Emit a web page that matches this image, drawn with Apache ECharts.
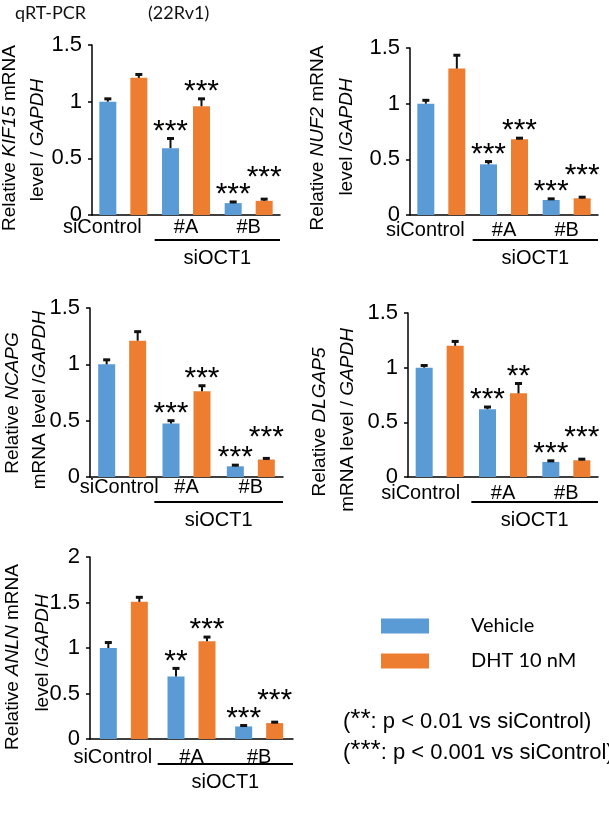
<!DOCTYPE html>
<html>
<head>
<meta charset="utf-8">
<script src="https://cdn.jsdelivr.net/npm/echarts@6/dist/echarts.min.js"></script>
<style>
html, body { margin: 0; padding: 0; background: #fff; }
#main { width: 609px; height: 818px; }
</style>
</head>
<body>
<div id="main"></div>
<script>
// 数据
var categories = ['siControl', '#A', '#B'];
var seriesNames = ['Vehicle', 'DHT 10 nM'];

var kif15Veh = [1.0, 0.59, 0.105];
var kif15VehErr = [0.025, 0.085, 0.01];
var kif15Dht = [1.21, 0.96, 0.125];
var kif15DhtErr = [0.03, 0.065, 0.015];
var kif15VehStars = ['', '***', '***'];
var kif15DhtStars = ['', '***', '***'];

var nuf2Veh = [1.0, 0.455, 0.135];
var nuf2VehErr = [0.03, 0.025, 0.01];
var nuf2Dht = [1.315, 0.68, 0.15];
var nuf2DhtErr = [0.12, 0.01, 0.01];
var nuf2VehStars = ['', '***', '***'];
var nuf2DhtStars = ['', '***', '***'];

var ncapgVeh = [1.0, 0.475, 0.095];
var ncapgVehErr = [0.04, 0.025, 0.01];
var ncapgDht = [1.21, 0.76, 0.155];
var ncapgDhtErr = [0.08, 0.05, 0.01];
var ncapgVehStars = ['', '***', '***'];
var ncapgDhtStars = ['', '***', '***'];

var dlgap5Veh = [1.0, 0.62, 0.138];
var dlgap5VehErr = [0.02, 0.02, 0.01];
var dlgap5Dht = [1.2, 0.765, 0.153];
var dlgap5DhtErr = [0.04, 0.09, 0.01];
var dlgap5VehStars = ['', '***', '***'];
var dlgap5DhtStars = ['', '**', '***'];

var anlnVeh = [1.0, 0.686, 0.138];
var anlnVehErr = [0.06, 0.09, 0.01];
var anlnDht = [1.507, 1.075, 0.175];
var anlnDhtErr = [0.05, 0.045, 0.01];
var anlnVehStars = ['', '**', '***'];
var anlnDhtStars = ['', '***', '***'];

var yMax = [1.5, 1.5, 1.5, 1.5, 2];

// 布局
var font = 'Liberation Sans, Arial, sans-serif';
var colors = ['#5B9BD5', '#ED7D31'];
var barW = 17, pitch = 31;

var panels = [
    {veh: kif15Veh, vehErr: kif15VehErr, dht: kif15Dht, dhtErr: kif15DhtErr, vs: kif15VehStars, ds: kif15DhtStars,
     grid: [92, 45, 188, 170], shift: 21, lm: 2,
     name: ['Relative {i|KIF15} mRNA', 'level / {i|GAPDH}'], n1: [10, 138], n2: [38, 140]},
    {veh: nuf2Veh, vehErr: nuf2VehErr, dht: nuf2Dht, dhtErr: nuf2DhtErr, vs: nuf2VehStars, ds: nuf2DhtStars,
     grid: [410, 48, 188, 167], shift: 16, lm: 5,
     name: ['Relative {i|NUF2} mRNA', 'level /{i|GAPDH}'], n1: [318, 138], n2: [347, 137]},
    {veh: ncapgVeh, vehErr: ncapgVehErr, dht: ncapgDht, dhtErr: ncapgDhtErr, vs: ncapgVehStars, ds: ncapgDhtStars,
     grid: [90, 308, 193, 169], shift: 3, lm: 0,
     name: ['Relative {i|NCAPG}', 'mRNA level /{i|GAPDH}'], n1: [13, 403], n2: [40, 400]},
    {veh: dlgap5Veh, vehErr: dlgap5VehErr, dht: dlgap5Dht, dhtErr: dlgap5DhtErr, vs: dlgap5VehStars, ds: dlgap5DhtStars,
     grid: [408, 313, 190, 164], shift: 19, lm: 6,
     name: ['Relative {i|DLGAP5}', 'mRNA level / {i|GAPDH}'], n1: [320, 422], n2: [348, 420]},
    {veh: anlnVeh, vehErr: anlnVehErr, dht: anlnDht, dhtErr: anlnDhtErr, vs: anlnVehStars, ds: anlnDhtStars,
     grid: [90, 557, 203, 182], shift: 11, lm: 8,
     name: ['Relative {i|ANLN} mRNA', 'level /{i|GAPDH}'], n1: [13, 657], n2: [43, 653]}
];

function errRender(errs, stars, side) {
    return function (params, api) {
        var i = params.dataIndex;
        var v = api.value(1);
        var b = api.coord([i, v]);
        var t = api.coord([i, v + errs[i]]);
        var x = b[0] + side * pitch / 2;
        var gap = (side > 0 && i === 2) ? 28 : 14;
        return {
            type: 'group',
            children: [
                {type: 'line', shape: {x1: x, y1: b[1], x2: x, y2: t[1]},
                 style: {stroke: '#111', lineWidth: 2}},
                {type: 'rect', shape: {x: x - 3.5, y: t[1] - 1.5, width: 7, height: 3},
                 style: {fill: '#111'}},
                {type: 'text', x: x, y: t[1] - gap + 7,
                 style: {text: stars[i], align: 'center', verticalAlign: 'middle',
                         font: '30px ' + font, fill: '#000'}}
            ]
        };
    };
}

var option = {
    animation: false,
    backgroundColor: '#fff',
    grid: [], xAxis: [], yAxis: [], series: [], graphic: [],
    legend: {
        data: seriesNames,
        orient: 'vertical',
        left: 381, top: 616,
        padding: 0,
        itemWidth: 48, itemHeight: 15, itemGap: 15,
        icon: 'rect',
        formatter: function (n) { return '{t|' + n + '}'; },
        textStyle: {
            rich: {t: {fontFamily: 'Lato', fontSize: 20, color: '#000', lineHeight: 15, padding: [0, 0, 0, 37]}}
        }
    }
};

panels.forEach(function (p, k) {
    var g = p.grid;
    option.grid.push({left: g[0], top: g[1], width: g[2], height: g[3]});
    option.xAxis.push({
        type: 'category', gridIndex: k, data: categories,
        axisLine: {lineStyle: {color: '#000', width: 1.5}},
        axisTick: {show: false},
        axisLabel: {
            interval: 0, hideOverlap: false,
            margin: p.lm, color: '#000', fontSize: 20, fontFamily: font,
            formatter: function (v, i) { return i === 0 ? '{c|' + v + '}' : v; },
            rich: {c: {fontSize: 20, fontFamily: font, color: '#000', padding: [0, p.shift * 2, 0, 0]}}
        }
    });
    option.yAxis.push({
        type: 'value', gridIndex: k, min: 0, max: yMax[k], interval: 0.5,
        splitLine: {show: false},
        axisLine: {show: true, lineStyle: {color: '#000', width: 1.5}},
        axisTick: {show: true, length: 4, lineStyle: {color: '#000', width: 1.5}},
        axisLabel: {margin: 10, color: '#000', fontSize: 22, fontFamily: font}
    });
    option.series.push(
        {name: seriesNames[0], type: 'bar', xAxisIndex: k, yAxisIndex: k, data: p.veh,
         barWidth: barW, barGap: ((pitch - barW) / barW * 100) + '%', itemStyle: {color: colors[0]}},
        {name: seriesNames[1], type: 'bar', xAxisIndex: k, yAxisIndex: k, data: p.dht,
         barWidth: barW, itemStyle: {color: colors[1]}},
        {type: 'custom', xAxisIndex: k, yAxisIndex: k, z: 3,
         data: p.veh.map(function (v, i) { return [i, v]; }), encode: {x: 0, y: 1},
         renderItem: errRender(p.vehErr, p.vs, -1)},
        {type: 'custom', xAxisIndex: k, yAxisIndex: k, z: 3,
         data: p.dht.map(function (v, i) { return [i, v]; }), encode: {x: 0, y: 1},
         renderItem: errRender(p.dhtErr, p.ds, 1)}
    );
    // y 轴标题
    [p.n1, p.n2].forEach(function (pos, j) {
        option.graphic.push({
            type: 'text', x: pos[0], y: pos[1], rotation: Math.PI / 2,
            style: {text: p.name[j], font: '19px ' + font, fill: '#000', align: 'center', verticalAlign: 'middle',
                    rich: {i: {fontStyle: 'italic', fontSize: 19, fontFamily: font}}}
        });
    });
    // siOCT1 下划线
    var x1 = g[0] + g[2] / 3, x2 = g[0] + g[2], yb = g[1] + g[3];
    option.graphic.push(
        {type: 'line', shape: {x1: x1, y1: yb + 25, x2: x2, y2: yb + 25}, style: {stroke: '#000', lineWidth: 2}},
        {type: 'text', x: (x1 + x2) / 2, y: yb + 43,
         style: {text: 'siOCT1', font: '20px ' + font, fill: '#000', align: 'center', verticalAlign: 'middle'}}
    );
});

option.graphic.push(
    {type: 'text', x: 15, y: 13, style: {text: 'qRT-PCR', font: '18px Lato', fill: '#111', verticalAlign: 'middle'}},
    {type: 'text', x: 148, y: 13, style: {text: '(22Rv1)', font: '18px Lato', fill: '#111', verticalAlign: 'middle'}}
);

var noteRich = {
    n: {fontSize: 22, fontFamily: font, color: '#000', lineHeight: 30},
    s: {fontSize: 26, fontFamily: font, color: '#000', lineHeight: 14, verticalAlign: 'top'}
};
option.graphic.push(
    {type: 'text', x: 343, y: 722,
     style: {text: '{n|(}{s|**}{n|: p < 0.01 vs siControl)}', rich: noteRich, verticalAlign: 'middle'}},
    {type: 'text', x: 343, y: 753,
     style: {text: '{n|(}{s|***}{n|: p < 0.001 vs siControl)}', rich: noteRich, verticalAlign: 'middle'}}
);

var myChart = echarts.init(document.getElementById('main'));
myChart.setOption(option);
</script>
</body>
</html>
